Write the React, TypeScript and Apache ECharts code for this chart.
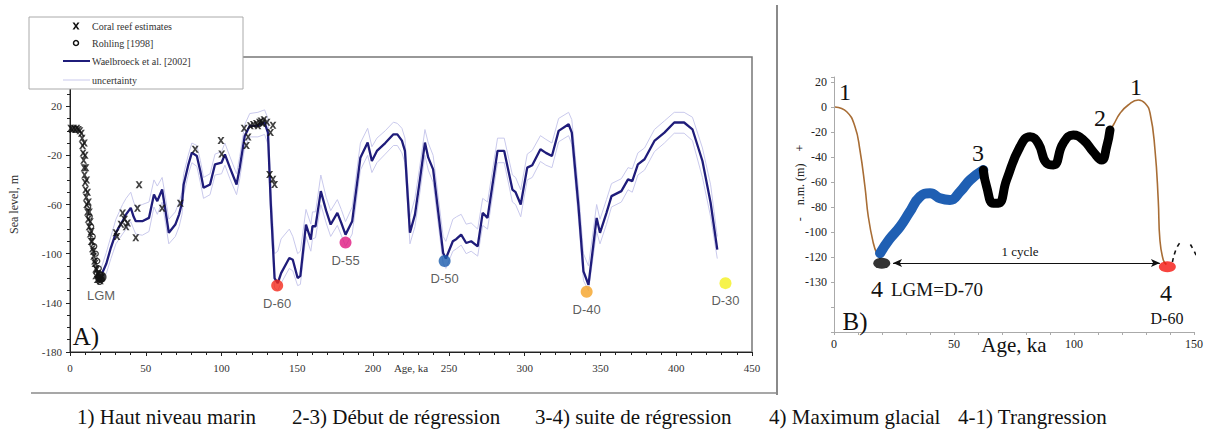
import React, { useEffect, useRef } from "react";
import * as echarts from "echarts";

// ---------- Panel A : Waelbroeck et al. [2002] sea-level curve ----------
const ageA = [20.5, 24, 27, 30.3, 32.5, 34.7, 37, 40.1, 42, 43.4, 47.7, 52.1, 55.4, 57.6, 60.8, 63, 65.2, 69.5, 72, 73.9, 75, 78, 80.4, 83.7, 86, 88.1, 92.4, 95.7, 100, 102.2, 105.5, 109.9, 112, 115.3, 118.6, 124, 128.4, 130.6, 132.5, 135, 137.1, 139.3, 144.7, 147, 150.2, 152, 155.7, 158.9, 160, 162, 165.5, 169, 172, 176.4, 179, 181.8, 186.2, 191.6, 196.4, 199.2, 202.5, 208, 213.4, 216, 219, 221, 224.3, 227.6, 230.9, 234.2, 236.4, 239.6, 246.2, 248, 252.6, 255, 258.1, 261.4, 264.7, 269, 272.3, 275.5, 282.1, 286.5, 291.9, 294, 297.4, 301.7, 305, 310.4, 314, 318, 322.4, 329, 331.1, 335.5, 338.8, 342.1, 347.5, 349.7, 354, 357.3, 363.8, 368.2, 371, 374.7, 379.1, 385.6, 392.2, 398.7, 405.2, 410.7, 417.3, 422.7, 427.1];
const seaA = [-118, -108, -95, -83, -78, -73.6, -68, -62.7, -70, -73.6, -73.6, -70.9, -51.8, -57.3, -47.8, -65, -83, -76.3, -68, -58.6, -43.7, -28, -17.8, -20.6, -33, -46.4, -43.7, -27.3, -26, -19.2, -30, -43.7, -30, -4.2, 4, 4, 6.7, -1.5, -60, -120, -124, -115.8, -103.5, -105, -119.8, -118, -76.3, -88.6, -77.7, -77.7, -49.1, -65, -76.3, -66.8, -75, -84.5, -73.6, -21.9, -9.6, -24.6, -16.4, -10, -2.9, -3, -8, -16.4, -83, -68.2, -39.6, -9.6, -21.9, -31.4, -99.4, -104, -89.9, -88, -84.5, -91.3, -89.9, -94, -66.8, -70.9, -16.4, -16.4, -47.8, -50, -60, -30, -28, -15, -18, -20.6, -0.1, 5.3, -1.5, -61.3, -114.4, -125.3, -70.9, -83, -66.8, -53.2, -49.1, -39.6, -41, -27.3, -23.2, -8.3, -1.5, 6.7, 6.7, 1.2, -24.6, -58.6, -96.7];
const upperA = [-112, -99, -86, -72, -66, -60, -55, -50, -58, -62, -60, -58, -40, -45, -38, -54, -72, -66, -58, -50, -35, -20, -10, -12, -24, -38, -35, -19, -17, -10, -21, -35, -21, 5, 14, 15, 17, 10, -45, -100, -98, -88, -80, -86, -100, -98, -64, -76, -66, -66, -36, -54, -65, -56, -64, -74, -62, -10, 2, -13, -6, 0, 7, 6, 2, -6, -70, -55, -28, 1, -10, -20, -86, -90, -72, -70, -68, -76, -75, -80, -55, -58, -6, -6, -36, -38, -48, -19, -16, -4, -7, -10, 10, 15, 9, -48, -100, -110, -60, -72, -56, -43, -39, -30, -31, -18, -14, 1, 8, 15, 15, 11, -14, -44, -86];
const lowerA = [-124, -116, -104, -92, -88, -84, -80, -74, -80, -84, -85, -82, -62, -68, -58, -75, -92, -86, -78, -68, -52, -36, -26, -29, -42, -55, -52, -36, -35, -28, -39, -52, -39, -13, -5, -5, -3, -11, -72, -128, -130, -124, -112, -114, -126, -125, -86, -98, -88, -87, -60, -75, -86, -77, -85, -94, -84, -32, -20, -34, -26, -19, -12, -12, -18, -26, -92, -78, -50, -20, -32, -42, -108, -112, -98, -96, -93, -100, -98, -102, -77, -80, -26, -26, -58, -60, -70, -40, -38, -25, -28, -30, -9, -4, -11, -72, -122, -130, -82, -92, -76, -62, -58, -48, -50, -36, -32, -17, -10, -2, -2, -8, -38, -70, -104];

// Coral reef estimates (x markers)
const coralAge = [0.5, 1.5, 2.5, 3.5, 4.5, 5.5, 6.5, 7.5, 8, 8.3, 8.6, 9, 9.3, 9.6, 10, 10.3, 10.7, 11, 11.5, 12, 12.6, 13.3, 14, 14.8, 15.6, 16.5, 17.5, 18.5, 19.5, 20.5, 9.5, 10, 10.5, 11, 11.6, 12.2, 12.8, 13.4, 14, 14.6, 15.4, 16.2, 17.2, 18.4, 19, 20, 21, 17, 18, 30.3, 31, 33.6, 34.7, 36, 37, 38, 43.4, 44.5, 45.6, 60.8, 72.8, 82.6, 99.6, 100.1, 114.9, 116.4, 117.5, 119, 121, 123, 124, 125, 126, 127, 128, 130, 133.9, 132.3, 131.7, 133.9, 135];
const coralSea = [2, 1, 2, 1, 2, 1, 0, -2, -6, -12, -18, -24, -30, -36, -42, -48, -54, -60, -66, -72, -78, -84, -90, -96, -102, -108, -113, -117, -119, -120, -10, -20, -30, -40, -50, -58, -66, -74, -82, -90, -98, -106, -112, -116, -121, -122, -119, -118, -121, -83, -86, -76, -67, -72, -78, -75, -87, -63, -44, -63, -59, -15, -8, -19, 2, -12, -5, 4, 5, 6, 4, 7, 8, 6, 9, 7, 4.5, -1.5, -35.5, -39.5, -43.7];
// Rohling [1998] (open circles)
const rohlingAge = [12, 13, 14, 15, 16, 17, 18, 19, 20, 21, 19.5, 18.5];
const rohlingSea = [-62, -70, -78, -86, -94, -100, -106, -112, -117, -121, -123, -120];

// Highlighted lowstands
const lgmAge = [20.5];
const lgmSea = [-119];
const dotNames = ["D-60", "D-55", "D-50", "D-40", "D-30"];
const dotAges = [136.7, 181.8, 247.2, 340.9, 432.5];
const dotSea = [-126, -91, -106, -131, -124];
const dotColors = ["#f52a1c", "#e0187f", "#1b5cae", "#f5a325", "#f4f01e"];

// ---------- Panel B : schematic glacial cycle ----------
const bFallAge = [0.4, 5.3, 8.75, 10.8, 12.9, 14.3, 16.4, 17.8, 19.2];
const bFallSea = [0, -3.8, -15.8, -34.4, -63.8, -87.8, -109, -117, -121];
const bBlueAge = [19.2, 23, 27.5, 31.5, 35.8, 40, 44.2, 48.3, 52.5, 56.7, 62.2];
const bBlueSea = [-117, -106, -95.8, -84, -71.8, -69, -73, -74.4, -67.8, -58.4, -50.4];
const bBlackAge = [62.2, 63.6, 66.4, 68.5, 71.9, 77.5, 81.7, 85.1, 88.6, 91.4, 95.5, 99.7, 103.9, 108, 111.5, 113.6, 115];
const bBlackSea = [-50.4, -63.8, -77, -77, -58.4, -31.8, -23.8, -29, -45, -46.4, -29, -22.4, -26.4, -35.8, -42.4, -31.8, -18.4];
const bRiseAge = [115, 116.4, 119.2, 122.6, 126.8, 129.6, 131.7, 133.75, 135.1, 135.8, 137.2, 138.5];
const bRiseSea = [-18.4, -14.4, -5, 1.6, 5.6, 3, -5, -34.4, -74.4, -106.4, -122.4, -126];
const bDashAge = [141, 142.5, 144, null, 148.5, 150, 151.5];
const bDashSea = [-124, -114, -109, null, -110, -115, -121];
const bLgmAge = [19.9];
const bLgmSea = [-125];
const bD60Age = [138.9];
const bD60Sea = [-127.8];
const bCycleAge = [24.6, 135.8];
const bCycleSea = [-124.8, -124.8];

const captionItems = ["1) Haut niveau marin", "2-3) Début de régression", "3-4) suite de régression", "4) Maximum glacial", "4-1) Trangression"];

const pairs = (xs: any[], ys: any[]) => xs.map((x, i) => (x === null ? [null, null] : [x, ys[i]]));

const SERIF = "Liberation Serif";
const SANS = "Liberation Sans";

const coralPath = "path://M0,0L3,0L5,3L7,0L10,0L6.5,5L10,10L7,10L5,7L3,10L0,10L3.5,5Z";

function buildOption(): any {
  const txt = (text: string, x: number, y: number, size: number, extra: any = {}) => ({
    type: "text",
    x,
    y,
    z: 70,
    style: { text, fontSize: size, fontFamily: SERIF, fill: "#111", align: "center", verticalAlign: "middle", ...extra },
  });
  const captionX = [77, 292, 535, 769, 958];
  return {
    animation: false,
    backgroundColor: "#fff",
    textStyle: { fontFamily: SERIF },
    grid: [
      { left: 67, top: 57, width: 685, height: 295, show: true, borderColor: "#777", borderWidth: 1.5, backgroundColor: "transparent" },
      { left: 834, top: 77, width: 360, height: 255, show: false },
    ],
    xAxis: [
      {
        gridIndex: 0, type: "value", min: 0, max: 450, interval: 50,
        name: "Age, ka", nameLocation: "middle", nameGap: 10, nameMoveOverlap: false,
        nameTextStyle: { fontSize: 11, color: "#333", fontFamily: SERIF },
        axisLine: { onZero: false, lineStyle: { color: "#222", width: 1 } },
        axisTick: { length: 4, lineStyle: { color: "#222" } },
        minorTick: { show: true, splitNumber: 5, length: 3, lineStyle: { color: "#222" } },
        axisLabel: { fontSize: 11, color: "#333", margin: 10, fontFamily: SERIF },
        splitLine: { show: false },
      },
      {
        gridIndex: 1, type: "value", min: 0, max: 150, interval: 10,
        name: "Age, ka", nameLocation: "middle", nameGap: 2, nameMoveOverlap: false,
        nameTextStyle: { fontSize: 21, color: "#111", fontFamily: SERIF },
        axisLine: { onZero: false, lineStyle: { color: "#aaa", width: 1 } },
        axisTick: { length: 3, lineStyle: { color: "#aaa" } },
        axisLabel: { fontSize: 12, color: "#222", margin: 6, fontFamily: SERIF, formatter: (v: number) => (v % 50 === 0 ? String(v) : "") },
        splitLine: { show: false },
      },
    ],
    yAxis: [
      {
        gridIndex: 0, type: "value", min: -180, max: 60, interval: 40,
        name: "Sea level, m", nameLocation: "middle", nameGap: 50, nameMoveOverlap: false,
        nameTextStyle: { fontSize: 12, color: "#333", fontFamily: SERIF },
        axisLine: { onZero: false, lineStyle: { color: "#222", width: 1 } },
        axisTick: { length: 4, lineStyle: { color: "#222" } },
        minorTick: { show: true, splitNumber: 4, length: 3, lineStyle: { color: "#222" } },
        axisLabel: { fontSize: 11, color: "#333", margin: 8, fontFamily: SERIF, formatter: (v: number) => (v === 60 ? "" : String(v)) },
        splitLine: { show: false },
      },
      {
        gridIndex: 1, type: "value", min: -180, max: 24, interval: 20,
        axisLine: { onZero: false, lineStyle: { color: "#aaa", width: 1 } },
        axisTick: { length: 3, lineStyle: { color: "#aaa" } },
        axisLabel: {
          fontSize: 12, color: "#222", margin: 7, fontFamily: SERIF,
          formatter: (v: number) => (v === -140 ? "-130" : v < -140 || v > 20 ? "" : String(v)),
        },
        splitLine: { show: false },
      },
    ],
    series: [
      { type: "line", name: "uncertainty", xAxisIndex: 0, yAxisIndex: 0, data: pairs(ageA, upperA), showSymbol: false, lineStyle: { color: "#c9c9ec", width: 1 }, z: 2 },
      { type: "line", name: "uncertainty-low", xAxisIndex: 0, yAxisIndex: 0, data: pairs(ageA, lowerA), showSymbol: false, lineStyle: { color: "#c9c9ec", width: 1 }, z: 2 },
      { type: "line", name: "Waelbroeck et al. [2002]", xAxisIndex: 0, yAxisIndex: 0, data: pairs(ageA, seaA), showSymbol: false, lineStyle: { color: "#1f1c7a", width: 2.3 }, z: 3 },
      { type: "scatter", name: "Rohling [1998]", xAxisIndex: 0, yAxisIndex: 0, data: pairs(rohlingAge, rohlingSea), symbol: "circle", symbolSize: 5, itemStyle: { color: "#fff", borderColor: "#111", borderWidth: 1.3 }, z: 4 },
      { type: "scatter", name: "Coral reef estimates", xAxisIndex: 0, yAxisIndex: 0, data: pairs(coralAge, coralSea), symbol: coralPath, symbolSize: 7, itemStyle: { color: "#111" }, z: 5 },
      { type: "scatter", name: "LGM", xAxisIndex: 0, yAxisIndex: 0, data: pairs(lgmAge, lgmSea), symbol: "circle", symbolSize: 11, itemStyle: { color: "#111" }, z: 5,
        label: { show: true, position: "bottom", distance: 6, formatter: "LGM", fontFamily: SANS, fontSize: 13, color: "#333" } },
      { type: "scatter", name: "lowstands", xAxisIndex: 0, yAxisIndex: 0,
        data: dotAges.map((a, i) => ({ value: [a, dotSea[i]], name: dotNames[i], itemStyle: { color: dotColors[i] } })),
        symbol: "circle", symbolSize: 12, z: 6,
        label: { show: true, position: "bottom", distance: 5, formatter: "{b}", fontFamily: SANS, fontSize: 13, color: "#333" } },

      { type: "line", xAxisIndex: 1, yAxisIndex: 1, data: pairs(bFallAge, bFallSea), smooth: true, showSymbol: false, lineStyle: { color: "#a86d35", width: 1.6 }, z: 3 },
      { type: "line", xAxisIndex: 1, yAxisIndex: 1, data: pairs(bRiseAge, bRiseSea), smooth: true, showSymbol: false, lineStyle: { color: "#a86d35", width: 1.6 }, z: 3 },
      { type: "line", xAxisIndex: 1, yAxisIndex: 1, data: pairs(bBlueAge, bBlueSea), smooth: true, showSymbol: false, lineStyle: { color: "#1f5fb3", width: 10, cap: "round", join: "round" }, z: 4 },
      { type: "line", xAxisIndex: 1, yAxisIndex: 1, data: pairs(bBlackAge, bBlackSea), smooth: true, showSymbol: false, lineStyle: { color: "#000", width: 9, cap: "round", join: "round" }, z: 4 },
      { type: "line", xAxisIndex: 1, yAxisIndex: 1, data: pairs(bDashAge, bDashSea), smooth: true, showSymbol: false, connectNulls: false, clip: false, lineStyle: { color: "#111", width: 1.6, type: [4, 4] }, z: 4 },
      { type: "scatter", xAxisIndex: 1, yAxisIndex: 1, data: pairs(bLgmAge, bLgmSea), symbol: "circle", symbolSize: [17, 11], itemStyle: { color: "#000" }, z: 5 },
      { type: "scatter", xAxisIndex: 1, yAxisIndex: 1, data: pairs(bD60Age, bD60Sea), symbol: "circle", symbolSize: [17, 11], itemStyle: { color: "#f5150f" }, z: 5 },
      { type: "line", xAxisIndex: 1, yAxisIndex: 1, data: [], z: 5,
        markLine: { silent: true, symbol: ["arrow", "arrow"], symbolSize: [6, 9], label: { show: false },
          lineStyle: { color: "#111", width: 1, type: "solid" },
          data: [[{ coord: [bCycleAge[0], bCycleSea[0]] }, { coord: [bCycleAge[1], bCycleSea[1]] }]] } },
    ],
    graphic: [
      // panel separators
      { type: "line", z: 40, shape: { x1: 777, y1: 5, x2: 777, y2: 395 }, style: { stroke: "#8a8a8a", lineWidth: 2 } },
      { type: "line", z: 40, shape: { x1: 31, y1: 393, x2: 777, y2: 393 }, style: { stroke: "#8a8a8a", lineWidth: 1.5 } },
      // legend of panel A
      { type: "rect", z: 60, shape: { x: 29, y: 17, width: 214, height: 72 }, style: { fill: "#fff", stroke: "#aaa", lineWidth: 1 } },
      { type: "polygon", z: 61, shape: { points: [[72.5, 22.5], [74.5, 22.5], [76, 24.8], [77.5, 22.5], [79.5, 22.5], [77, 26], [79.5, 29.5], [77.5, 29.5], [76, 27.2], [74.5, 29.5], [72.5, 29.5], [75, 26]] }, style: { fill: "#111" } },
      { type: "circle", z: 61, shape: { cx: 76, cy: 43, r: 2.5 }, style: { fill: "#fff", stroke: "#111", lineWidth: 1.5 } },
      { type: "line", z: 61, shape: { x1: 63, y1: 61, x2: 90, y2: 61 }, style: { stroke: "#1f1c7a", lineWidth: 2 } },
      { type: "line", z: 61, shape: { x1: 63, y1: 80, x2: 90, y2: 80 }, style: { stroke: "#c9c9ec", lineWidth: 1 } },
      txt("Coral reef estimates", 92, 26, 10, { align: "left", fill: "#333" }),
      txt("Rohling [1998]", 92, 43, 10, { align: "left", fill: "#333" }),
      txt("Waelbroeck et al. [2002]", 92, 61, 10, { align: "left", fill: "#333" }),
      txt("uncertainty", 92, 80, 10, { align: "left", fill: "#333" }),
      // panel letters
      txt("A)", 86, 336, 25),
      txt("B)", 855, 321, 25),
      // panel B annotations
      { type: "text", z: 70, x: 800, y: 183, rotation: Math.PI / 2, style: { text: "-    n.m. (m)    +", fontSize: 12, fontFamily: SERIF, fill: "#222", align: "center", verticalAlign: "middle" } },
      txt("1", 845, 92, 24),
      txt("1", 1136, 87, 24),
      txt("2", 1100, 118, 24),
      txt("3", 978, 153, 24),
      txt("4", 877, 289, 24),
      txt("LGM=D-70", 891, 289, 19, { align: "left" }),
      txt("4", 1166, 293, 24),
      txt("D-60", 1167, 318, 16),
      txt("1 cycle", 1020, 251, 13),
      // caption
      ...captionItems.map((t, i) => txt(t, captionX[i], 417, 21, { align: "left" })),
    ],
  };
}

export default function App() {
  const ref = useRef<HTMLDivElement>(null);
  useEffect(() => {
    document.body.style.margin = "0";
    const chart = echarts.init(ref.current as HTMLDivElement, null, { renderer: "svg" });
    chart.setOption(buildOption());
    return () => chart.dispose();
  }, []);
  return <div ref={ref} style={{ width: 1206, height: 437 }} />;
}
